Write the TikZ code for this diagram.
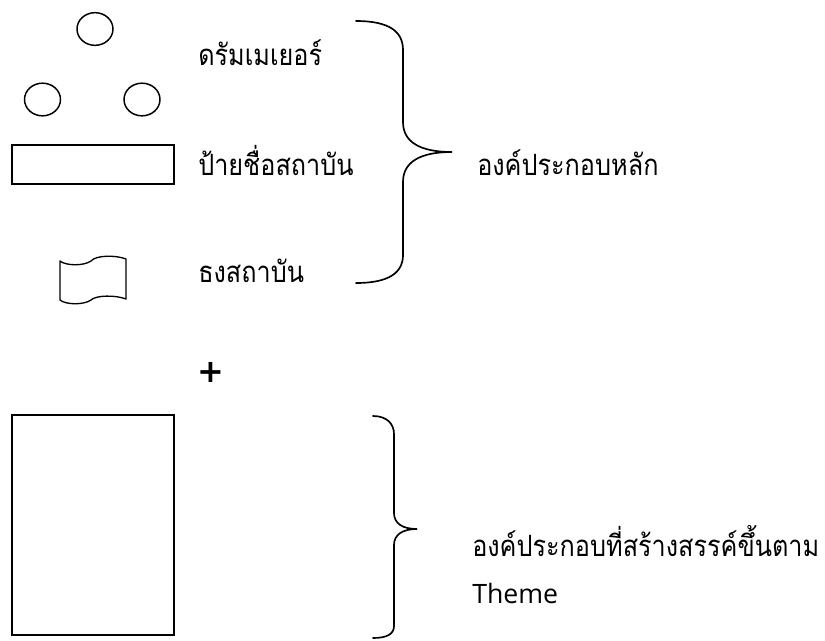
\documentclass[tikz,border=0pt]{standalone}
\usepackage{fontspec}
\newfontfamily\thaifont[Script=Thai,FakeStretch=0.86]{Loma}
\newfontfamily\latinfont{Open Sans}
\newfontfamily\plusfont{DejaVu Sans}
\usetikzlibrary{positioning,shapes.geometric}
\tikzset{
    drum/.style={draw,ellipse,line width=1.1pt,minimum width=27pt,minimum height=24.5pt,inner sep=0pt},
    board/.style={draw,line width=1.6pt,inner sep=0pt},
    itemtext/.style={font=\thaifont\fontsize{22}{26}\selectfont,anchor=base west,inner sep=0pt},
    bracepath/.style={line width=1.25pt,line cap=round}
}

\begin{document}
\begin{tikzpicture}[x=0.75pt,y=-0.75pt]
\useasboundingbox (0,0) rectangle (825,640);

% drum majors
\node[drum] (drumtop) at (95,29) {};
\node[drum] (drumleft) at (42.5,99.5) {};
\node[drum] (drumright) at (142,99.5) {};

% name board
\node[board,minimum width=121.5pt,minimum height=29.25pt] (board) at (93,164.5) {};

% flag
\coordinate (flagtl) at (60,261);
\draw[line width=1pt,line join=round] (flagtl)
    .. controls (66,266) and (84,266) .. (91,261)
    .. controls (96,255) and (116,255) .. (126,259)
    -- (126,299)
    .. controls (116,295) and (96,295) .. (91,300)
    .. controls (84,305) and (66,305) .. (60,300) -- cycle;

% labels
\node[itemtext] (drumtext) at (198,65) {ดรัมเมเยอร์};
\node[itemtext] (boardtext) at (198,175) {ป้ายชื่อสถาบัน};
\node[itemtext] (flagtext) at (198,282) {ธงสถาบัน};

% first brace
\coordinate (bracetop) at (356,21);
\coordinate (bracetip) at (452,152);
\coordinate (bracebot) at (356,283);
\draw[bracepath] (bracetop) .. controls (390,21) and (403,32) .. (403,50)
    -- (403,122) .. controls (403,142) and (420,152) .. (bracetip)
    .. controls (420,152) and (403,162) .. (403,182)
    -- (403,255) .. controls (403,272) and (390,283) .. (bracebot);
\node[itemtext] (maintext) at (477,175) {องค์ประกอบหลัก};

\node[font=\plusfont\bfseries\fontsize{24}{26}\selectfont] (plus) at (211,372) {+};

% theme part
\node[board,minimum width=121.5pt,minimum height=165pt] (themebox) at (93,525) {};
\coordinate (bracetopb) at (373,416);
\coordinate (bracetipb) at (417,529);
\coordinate (bracebotb) at (373,638);
\draw[bracepath] (bracetopb) .. controls (387,416) and (394,424) .. (394,434)
    -- (394,513) .. controls (394,523) and (402,529) .. (bracetipb)
    .. controls (402,529) and (394,535) .. (394,545)
    -- (394,626) .. controls (394,634) and (387,638) .. (bracebotb);
\node[itemtext] (themetext) at (472,556) {องค์ประกอบที่สร้างสรรค์ขึ้นตาม};
\node[itemtext,font=\latinfont\fontsize{20}{24}\selectfont,below=47*0.75pt of themetext.base west,anchor=base west] (themeword) {Theme};
\end{tikzpicture}
\end{document}
